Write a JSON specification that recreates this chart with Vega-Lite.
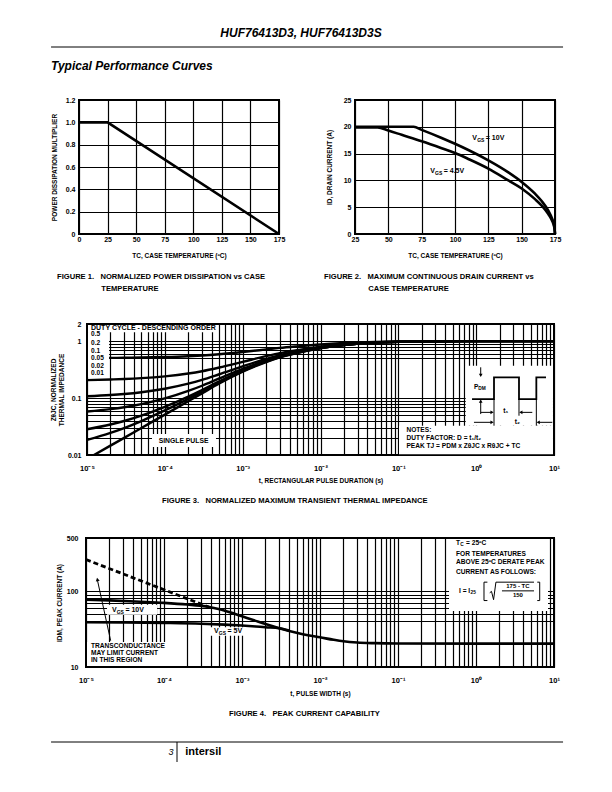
{
  "$schema": "https://vega.github.io/schema/vega-lite/v6.json",
  "padding": {"left": 49, "top": 26, "right": 10, "bottom": 10},
  "spacing": 0,
  "config": {
    "view": {"stroke": null},
    "axis": {"domain": false, "ticks": false, "grid": true, "gridColor": "#000000", "gridWidth": 1.2, "gridOpacity": 1, "labelFont": "Liberation Sans", "labelFontWeight": "bold", "labelFontSize": 7, "labelColor": "#000000", "titleFont": "Liberation Sans", "titleFontWeight": "bold", "titleFontSize": 6.5, "titleColor": "#000000", "labelFlush": false, "labelOverlap": false, "zindex": 0},
    "title": {"color": "#000000", "font": "Liberation Sans", "fontWeight": "bold", "fontSize": 7.6},
    "text": {"font": "Liberation Sans", "fontWeight": "bold", "color": "#000000"},
    "line": {"color": "#000000"},
    "rule": {"color": "#000000"},
    "point": {"color": "#000000"}
  },
  "datasets": {
    "f1": [{"tc": 0, "p": 1}, {"tc": 25, "p": 1}, {"tc": 175, "p": 0}],
    "f2": [
      {"s": "10", "tc": 25, "id": 20}, {"s": "10", "tc": 50, "id": 20}, {"s": "10", "tc": 69, "id": 20}, {"s": "10", "tc": 75, "id": 19.43}, {"s": "10", "tc": 90, "id": 17.92}, {"s": "10", "tc": 100, "id": 16.83}, {"s": "10", "tc": 110, "id": 15.67}, {"s": "10", "tc": 125, "id": 13.74}, {"s": "10", "tc": 140, "id": 11.5}, {"s": "10", "tc": 150, "id": 9.72}, {"s": "10", "tc": 160, "id": 7.53}, {"s": "10", "tc": 165, "id": 6.15}, {"s": "10", "tc": 170, "id": 4.35}, {"s": "10", "tc": 173, "id": 2.75}, {"s": "10", "tc": 174.5, "id": 1.37}, {"s": "10", "tc": 175, "id": 0},
      {"s": "4.5", "tc": 25, "id": 19.9}, {"s": "4.5", "tc": 42, "id": 19.9}, {"s": "4.5", "tc": 50, "id": 19.3}, {"s": "4.5", "tc": 60, "id": 18.5}, {"s": "4.5", "tc": 75, "id": 17.3}, {"s": "4.5", "tc": 90, "id": 16.0}, {"s": "4.5", "tc": 100, "id": 15.1}, {"s": "4.5", "tc": 110, "id": 14.0}, {"s": "4.5", "tc": 125, "id": 12.2}, {"s": "4.5", "tc": 140, "id": 10.0}, {"s": "4.5", "tc": 150, "id": 8.5}, {"s": "4.5", "tc": 160, "id": 6.5}, {"s": "4.5", "tc": 165, "id": 5.3}, {"s": "4.5", "tc": 170, "id": 3.7}, {"s": "4.5", "tc": 173, "id": 2.35}, {"s": "4.5", "tc": 174.5, "id": 1.2}, {"s": "4.5", "tc": 175, "id": 0}
    ],
    "f2lab": [{"tc": 113, "id": 17.9, "a": "V", "b": "GS", "c": "= 10V"}, {"tc": 81.4, "id": 11.8, "a": "V", "b": "GS", "c": "= 4.5V"}],
    "f3c": [
      {"d": "s", "t": 1e-5, "z": 0.0085}, {"d": "s", "t": 2e-5, "z": 0.0146}, {"d": "s", "t": 3e-5, "z": 0.02}, {"d": "s", "t": 5e-5, "z": 0.0298}, {"d": "s", "t": 1e-4, "z": 0.0512}, {"d": "s", "t": 2e-4, "z": 0.0879}, {"d": "s", "t": 3e-4, "z": 0.1206}, {"d": "s", "t": 5e-4, "z": 0.18}, {"d": "s", "t": 0.001, "z": 0.29}, {"d": "s", "t": 0.002, "z": 0.43}, {"d": "s", "t": 0.003, "z": 0.52}, {"d": "s", "t": 0.005, "z": 0.62}, {"d": "s", "t": 0.01, "z": 0.75}, {"d": "s", "t": 0.02, "z": 0.85}, {"d": "s", "t": 0.05, "z": 0.94}, {"d": "s", "t": 0.1, "z": 0.97}, {"d": "s", "t": 1, "z": 1}, {"d": "s", "t": 10, "z": 1},
      {"d": "0.01", "t": 1e-5, "z": 0.0184}, {"d": "0.01", "t": 2e-5, "z": 0.0245}, {"d": "0.01", "t": 3e-5, "z": 0.0298}, {"d": "0.01", "t": 5e-5, "z": 0.0395}, {"d": "0.01", "t": 1e-4, "z": 0.0607}, {"d": "0.01", "t": 2e-4, "z": 0.097}, {"d": "0.01", "t": 3e-4, "z": 0.1294}, {"d": "0.01", "t": 5e-4, "z": 0.188}, {"d": "0.01", "t": 0.001, "z": 0.297}, {"d": "0.01", "t": 0.002, "z": 0.436}, {"d": "0.01", "t": 0.003, "z": 0.525}, {"d": "0.01", "t": 0.005, "z": 0.624}, {"d": "0.01", "t": 0.01, "z": 0.7525}, {"d": "0.01", "t": 0.02, "z": 0.8515}, {"d": "0.01", "t": 0.05, "z": 0.9406}, {"d": "0.01", "t": 0.1, "z": 0.9703}, {"d": "0.01", "t": 1, "z": 1}, {"d": "0.01", "t": 10, "z": 1},
      {"d": "0.02", "t": 1e-5, "z": 0.0283}, {"d": "0.02", "t": 2e-5, "z": 0.0343}, {"d": "0.02", "t": 3e-5, "z": 0.0396}, {"d": "0.02", "t": 5e-5, "z": 0.0492}, {"d": "0.02", "t": 1e-4, "z": 0.0702}, {"d": "0.02", "t": 2e-4, "z": 0.1061}, {"d": "0.02", "t": 3e-4, "z": 0.1382}, {"d": "0.02", "t": 5e-4, "z": 0.196}, {"d": "0.02", "t": 0.001, "z": 0.304}, {"d": "0.02", "t": 0.002, "z": 0.441}, {"d": "0.02", "t": 0.003, "z": 0.53}, {"d": "0.02", "t": 0.005, "z": 0.628}, {"d": "0.02", "t": 0.01, "z": 0.755}, {"d": "0.02", "t": 0.02, "z": 0.853}, {"d": "0.02", "t": 0.05, "z": 0.941}, {"d": "0.02", "t": 0.1, "z": 0.971}, {"d": "0.02", "t": 1, "z": 1}, {"d": "0.02", "t": 10, "z": 1},
      {"d": "0.05", "t": 1e-5, "z": 0.0581}, {"d": "0.05", "t": 2e-5, "z": 0.0639}, {"d": "0.05", "t": 3e-5, "z": 0.069}, {"d": "0.05", "t": 5e-5, "z": 0.0783}, {"d": "0.05", "t": 1e-4, "z": 0.0986}, {"d": "0.05", "t": 2e-4, "z": 0.1335}, {"d": "0.05", "t": 3e-4, "z": 0.1646}, {"d": "0.05", "t": 5e-4, "z": 0.221}, {"d": "0.05", "t": 0.001, "z": 0.3255}, {"d": "0.05", "t": 0.002, "z": 0.4585}, {"d": "0.05", "t": 0.003, "z": 0.544}, {"d": "0.05", "t": 0.005, "z": 0.639}, {"d": "0.05", "t": 0.01, "z": 0.7625}, {"d": "0.05", "t": 0.02, "z": 0.8575}, {"d": "0.05", "t": 0.05, "z": 0.943}, {"d": "0.05", "t": 0.1, "z": 0.9715}, {"d": "0.05", "t": 1, "z": 1}, {"d": "0.05", "t": 10, "z": 1},
      {"d": "0.1", "t": 1e-5, "z": 0.1077}, {"d": "0.1", "t": 2e-5, "z": 0.1131}, {"d": "0.1", "t": 3e-5, "z": 0.118}, {"d": "0.1", "t": 5e-5, "z": 0.1268}, {"d": "0.1", "t": 1e-4, "z": 0.1461}, {"d": "0.1", "t": 2e-4, "z": 0.1791}, {"d": "0.1", "t": 3e-4, "z": 0.2085}, {"d": "0.1", "t": 5e-4, "z": 0.262}, {"d": "0.1", "t": 0.001, "z": 0.361}, {"d": "0.1", "t": 0.002, "z": 0.487}, {"d": "0.1", "t": 0.003, "z": 0.568}, {"d": "0.1", "t": 0.005, "z": 0.658}, {"d": "0.1", "t": 0.01, "z": 0.775}, {"d": "0.1", "t": 0.02, "z": 0.865}, {"d": "0.1", "t": 0.05, "z": 0.946}, {"d": "0.1", "t": 0.1, "z": 0.973}, {"d": "0.1", "t": 1, "z": 1}, {"d": "0.1", "t": 10, "z": 1},
      {"d": "0.2", "t": 1e-5, "z": 0.2068}, {"d": "0.2", "t": 2e-5, "z": 0.2117}, {"d": "0.2", "t": 3e-5, "z": 0.216}, {"d": "0.2", "t": 5e-5, "z": 0.2238}, {"d": "0.2", "t": 1e-4, "z": 0.241}, {"d": "0.2", "t": 2e-4, "z": 0.2703}, {"d": "0.2", "t": 3e-4, "z": 0.2965}, {"d": "0.2", "t": 5e-4, "z": 0.344}, {"d": "0.2", "t": 0.001, "z": 0.432}, {"d": "0.2", "t": 0.002, "z": 0.544}, {"d": "0.2", "t": 0.003, "z": 0.616}, {"d": "0.2", "t": 0.005, "z": 0.696}, {"d": "0.2", "t": 0.01, "z": 0.8}, {"d": "0.2", "t": 0.02, "z": 0.88}, {"d": "0.2", "t": 0.05, "z": 0.952}, {"d": "0.2", "t": 0.1, "z": 0.976}, {"d": "0.2", "t": 1, "z": 1}, {"d": "0.2", "t": 10, "z": 1},
      {"d": "0.5", "t": 1e-5, "z": 0.5043}, {"d": "0.5", "t": 2e-5, "z": 0.5073}, {"d": "0.5", "t": 3e-5, "z": 0.51}, {"d": "0.5", "t": 5e-5, "z": 0.5149}, {"d": "0.5", "t": 1e-4, "z": 0.5256}, {"d": "0.5", "t": 2e-4, "z": 0.544}, {"d": "0.5", "t": 3e-4, "z": 0.5603}, {"d": "0.5", "t": 5e-4, "z": 0.59}, {"d": "0.5", "t": 0.001, "z": 0.645}, {"d": "0.5", "t": 0.002, "z": 0.715}, {"d": "0.5", "t": 0.003, "z": 0.76}, {"d": "0.5", "t": 0.005, "z": 0.81}, {"d": "0.5", "t": 0.01, "z": 0.875}, {"d": "0.5", "t": 0.02, "z": 0.925}, {"d": "0.5", "t": 0.05, "z": 0.97}, {"d": "0.5", "t": 0.1, "z": 0.985}, {"d": "0.5", "t": 1, "z": 1}, {"d": "0.5", "t": 10, "z": 1}
    ],
    "f3box": [
      {"t": 1.03e-5, "t2": 4.68e-4, "z": 1.43, "z2": 1.93},
      {"t": 1.03e-5, "t2": 1.92e-5, "z": 0.2316, "z2": 1.43},
      {"t": 6.84e-5, "t2": 4.54e-4, "z": 0.0138, "z2": 0.0234},
      {"t": 0.102, "t2": 9.7, "z": 0.0103, "z2": 0.0327},
      {"t": 0.734, "t2": 9.7, "z": 0.0327, "z2": 0.37}
    ],
    "f3head": [{"t": 1.126e-5, "z": 1.7, "label": "DUTY CYCLE - DESCENDING ORDER"}],
    "f3txt": [
      {"t": 1.126e-5, "z": 1.334, "label": "0.5"},
      {"t": 1.126e-5, "z": 0.917, "label": "0.2"},
      {"t": 1.126e-5, "z": 0.68, "label": "0.1"},
      {"t": 1.126e-5, "z": 0.4995, "label": "0.05"},
      {"t": 1.126e-5, "z": 0.37, "label": "0.02"},
      {"t": 1.126e-5, "z": 0.2757, "label": "0.01"},
      {"t": 0.127, "z": 0.0275, "label": "NOTES:"},
      {"t": 0.127, "z": 0.0199, "label": "DUTY FACTOR: D = t₁/t₂"},
      {"t": 0.127, "z": 0.01456, "label": "PEAK TJ = PDM x ZθJC x RθJC + TC"}
    ],
    "f3txtc": [
      {"t": 1.74e-4, "z": 0.01782, "label": "SINGLE PULSE"},
      {"t": 2.4, "z": 0.0598, "label": "t₁"},
      {"t": 3.38, "z": 0.0375, "label": "t₂"}
    ],
    "f3seg": [
      {"seg": "wave", "k": 0, "t": 0.885, "z": 0.096}, {"seg": "wave", "k": 1, "t": 1.695, "z": 0.096}, {"seg": "wave", "k": 2, "t": 1.695, "z": 0.2316}, {"seg": "wave", "k": 3, "t": 3.55, "z": 0.2316}, {"seg": "wave", "k": 4, "t": 3.55, "z": 0.096}, {"seg": "wave", "k": 5, "t": 5.93, "z": 0.096}, {"seg": "wave", "k": 6, "t": 5.93, "z": 0.2316}, {"seg": "wave", "k": 7, "t": 7.89, "z": 0.2316},
      {"seg": "v1", "k": 0, "t": 1.695, "z": 0.096}, {"seg": "v1", "k": 1, "t": 1.695, "z": 0.0327},
      {"seg": "v2", "k": 0, "t": 3.55, "z": 0.096}, {"seg": "v2", "k": 1, "t": 3.55, "z": 0.049},
      {"seg": "v3", "k": 0, "t": 5.93, "z": 0.096}, {"seg": "v3", "k": 1, "t": 5.93, "z": 0.0327},
      {"seg": "pd", "k": 0, "t": 1.144, "z": 0.347}, {"seg": "pd", "k": 1, "t": 1.144, "z": 0.25},
      {"seg": "pu", "k": 0, "t": 1.144, "z": 0.0524}, {"seg": "pu", "k": 1, "t": 1.144, "z": 0.09},
      {"seg": "a1", "k": 0, "t": 1.144, "z": 0.0561}, {"seg": "a1", "k": 1, "t": 1.6, "z": 0.0561},
      {"seg": "a2", "k": 0, "t": 5.26, "z": 0.0561}, {"seg": "a2", "k": 1, "t": 3.75, "z": 0.0561},
      {"seg": "a3", "k": 0, "t": 0.937, "z": 0.0375}, {"seg": "a3", "k": 1, "t": 1.6, "z": 0.0375},
      {"seg": "a4", "k": 0, "t": 9.51, "z": 0.0375}, {"seg": "a4", "k": 1, "t": 6.27, "z": 0.0375}
    ],
    "f3arr": [
      {"dir": "down", "t": 1.144, "z": 0.25}, {"dir": "up", "t": 1.144, "z": 0.088},
      {"dir": "right", "t": 1.6, "z": 0.0561}, {"dir": "left", "t": 3.75, "z": 0.0561},
      {"dir": "right", "t": 1.6, "z": 0.0375}, {"dir": "left", "t": 6.27, "z": 0.0375}
    ],
    "f3pdm": [{"t": 0.937, "z": 0.1545, "a": "P", "b": "DM"}],
    "f4c": [
      {"s": "10", "t": 1e-5, "i": 77}, {"s": "10", "t": 2e-5, "i": 75.5}, {"s": "10", "t": 5e-5, "i": 72.5}, {"s": "10", "t": 1e-4, "i": 70}, {"s": "10", "t": 2e-4, "i": 66.5}, {"s": "10", "t": 3.5e-4, "i": 62.5}, {"s": "10", "t": 5e-4, "i": 58}, {"s": "10", "t": 7e-4, "i": 52.5}, {"s": "10", "t": 0.001, "i": 46.5}, {"s": "10", "t": 0.0015, "i": 40.5}, {"s": "10", "t": 0.002, "i": 36.8}, {"s": "10", "t": 0.003, "i": 32.5}, {"s": "10", "t": 0.005, "i": 28.3}, {"s": "10", "t": 0.007, "i": 26.2}, {"s": "10", "t": 0.01, "i": 24.6}, {"s": "10", "t": 0.015, "i": 22.8}, {"s": "10", "t": 0.02, "i": 21.8}, {"s": "10", "t": 0.03, "i": 21}, {"s": "10", "t": 0.05, "i": 20.6}, {"s": "10", "t": 0.1, "i": 20.4}, {"s": "10", "t": 1, "i": 20.3}, {"s": "10", "t": 10, "i": 20.3},
      {"s": "5", "t": 1e-5, "i": 38.8}, {"s": "5", "t": 3e-5, "i": 38.5}, {"s": "5", "t": 1e-4, "i": 38}, {"s": "5", "t": 3e-4, "i": 37.2}, {"s": "5", "t": 6e-4, "i": 36.2}, {"s": "5", "t": 0.001, "i": 35.2}, {"s": "5", "t": 0.0015, "i": 34.2}, {"s": "5", "t": 0.002, "i": 33.4}, {"s": "5", "t": 0.003, "i": 32.4}, {"s": "5", "t": 0.004, "i": 30.3}
    ],
    "f4dash": [{"t": 1e-5, "i": 260}, {"t": 3.78e-4, "i": 61.4}],
    "f4box": [
      {"t": 1.86e-5, "t2": 8.15e-5, "i": 48.6, "i2": 65.8},
      {"t": 3.78e-4, "t2": 1.34e-3, "i": 25.7, "i2": 33.5},
      {"t": 1.03e-5, "t2": 1.09e-4, "i": 10.3, "i2": 21.4},
      {"t": 0.451, "t2": 8.38, "i": 54.8, "i2": 485}
    ],
    "f4txt": [
      {"t": 1.16e-5, "i": 18.8, "label": "TRANSCONDUCTANCE"},
      {"t": 1.16e-5, "i": 15.3, "label": "MAY LIMIT CURRENT"},
      {"t": 1.16e-5, "i": 12.5, "label": "IN THIS REGION"},
      {"t": 0.555, "i": 306, "label": "FOR TEMPERATURES"},
      {"t": 0.555, "i": 240, "label": "ABOVE 25ºC DERATE PEAK"},
      {"t": 0.555, "i": 177, "label": "CURRENT AS FOLLOWS:"}
    ],
    "f4vgs": [{"t": 2.15e-5, "i": 56.5, "a": "V", "b": "GS", "c": "= 10V"}, {"t": 4.38e-4, "i": 30.2, "a": "V", "b": "GS", "c": "= 5V"}],
    "f4tc": [{"t": 0.555, "i": 431, "a": "T", "b": "C", "c": "= 25ºC"}],
    "f4i25": [{"t": 0.605, "i": 101, "a": "I = I", "b": "25"}],
    "f4ctr": [{"t": 3.45, "i": 116, "label": "175 - TC"}, {"t": 3.45, "i": 88, "label": "150"}],
    "f4seg": [
      {"seg": "lb", "k": 0, "t": 1.4, "i": 131}, {"seg": "lb", "k": 1, "t": 1.266, "i": 131}, {"seg": "lb", "k": 2, "t": 1.266, "i": 75}, {"seg": "lb", "k": 3, "t": 1.4, "i": 75},
      {"seg": "sq", "k": 0, "t": 1.5, "i": 95}, {"seg": "sq", "k": 1, "t": 1.58, "i": 99}, {"seg": "sq", "k": 2, "t": 1.68, "i": 77}, {"seg": "sq", "k": 3, "t": 1.8, "i": 131}, {"seg": "sq", "k": 4, "t": 5.54, "i": 131},
      {"seg": "fb", "k": 0, "t": 2.153, "i": 100.6}, {"seg": "fb", "k": 1, "t": 5.54, "i": 100.6},
      {"seg": "rb", "k": 0, "t": 6.1, "i": 131}, {"seg": "rb", "k": 1, "t": 6.56, "i": 131}, {"seg": "rb", "k": 2, "t": 6.56, "i": 75}, {"seg": "rb", "k": 3, "t": 6.1, "i": 75},
      {"seg": "ar", "k": 0, "t": 2.07e-5, "i": 22.2}, {"seg": "ar", "k": 1, "t": 1.4e-5, "i": 140}
    ],
    "f4arrow": [{"t": 1.4e-5, "i": 142}]
  },
  "vconcat": [
    {
      "width": 512, "height": 48,
      "data": {"values": [{}]},
      "title": {"text": "HUF76413D3, HUF76413D3S", "anchor": "middle", "frame": "group", "offset": 7, "dx": -4, "fontSize": 12, "fontStyle": "italic", "font": "Liberation Sans", "fontWeight": "bold"},
      "layer": [
        {"mark": {"type": "rule", "strokeWidth": 1}, "encoding": {"x": {"datum": 0.004, "type": "quantitative", "scale": {"domain": [0, 1]}, "axis": null}, "x2": {"datum": 1.004}, "y": {"datum": 1, "type": "quantitative", "scale": {"domain": [0, 1]}, "axis": null}}},
        {"mark": {"type": "text", "text": "Typical Performance Curves", "align": "left", "baseline": "middle", "fontSize": 12, "fontStyle": "italic", "fontWeight": "bold"}, "encoding": {"x": {"datum": 0.004, "type": "quantitative"}, "y": {"datum": 0.604, "type": "quantitative"}}}
      ]
    },
    {
      "spacing": 29,
      "bounds": "flush",
      "hconcat": [
        {"width": 1, "height": 219, "data": {"values": []}, "mark": "point"},
        {
          "width": 200, "height": 134,
          "view": {"stroke": "#000000", "strokeWidth": 2},
          "title": {"text": ["FIGURE 1.\u00a0\u00a0\u00a0NORMALIZED POWER DISSIPATION vs CASE", "\u200b\u00a0\u00a0\u00a0\u00a0\u00a0\u00a0\u00a0\u00a0\u00a0\u00a0\u00a0\u00a0\u00a0\u00a0\u00a0\u00a0\u00a0\u00a0\u00a0\u00a0\u00a0TEMPERATURE"], "orient": "bottom", "anchor": "start", "frame": "group", "dx": -22, "offset": 14, "lineHeight": 12},
          "data": {"name": "f1"},
          "mark": {"type": "line", "strokeWidth": 2.6},
          "encoding": {
            "x": {"field": "tc", "type": "quantitative", "scale": {"domain": [0, 175], "nice": false}, "axis": {"values": [0, 25, 50, 75, 100, 125, 150, 175], "title": "TC, CASE TEMPERATURE (ºC)", "labelPadding": 1, "titlePadding": 10.5}},
            "y": {"field": "p", "type": "quantitative", "scale": {"domain": [0, 1.2], "nice": false}, "axis": {"values": [0, 0.2, 0.4, 0.6, 0.8, 1, 1.2], "labelExpr": "datum.value == 0 ? '0' : format(datum.value, '.1f')", "title": "POWER DISSIPATION MULTIPLIER", "labelPadding": 4, "titlePadding": 8}}
          }
        },
        {"width": 18, "height": 1, "data": {"values": []}, "mark": "point"},
        {
          "width": 200, "height": 134,
          "view": {"stroke": "#000000", "strokeWidth": 2},
          "title": {"text": ["FIGURE 2.\u00a0\u00a0\u00a0MAXIMUM CONTINUOUS DRAIN CURRENT vs", "\u200b\u00a0\u00a0\u00a0\u00a0\u00a0\u00a0\u00a0\u00a0\u00a0\u00a0\u00a0\u00a0\u00a0\u00a0\u00a0\u00a0\u00a0\u00a0\u00a0\u00a0\u00a0CASE TEMPERATURE"], "orient": "bottom", "anchor": "start", "frame": "group", "dx": -31, "offset": 14, "lineHeight": 12},
          "encoding": {
            "x": {"field": "tc", "type": "quantitative", "scale": {"domain": [25, 175], "nice": false, "zero": false}, "axis": {"values": [25, 50, 75, 100, 125, 150, 175], "title": "TC, CASE TEMPERATURE (ºC)", "labelPadding": 1, "titlePadding": 10.5}},
            "y": {"field": "id", "type": "quantitative", "scale": {"domain": [0, 25], "nice": false}, "axis": {"values": [0, 5, 10, 15, 20, 25], "title": "ID, DRAIN CURRENT (A)", "labelPadding": 4, "titlePadding": 11}}
          },
          "layer": [
            {"data": {"name": "f2"}, "mark": {"type": "line", "strokeWidth": 2.6, "interpolate": "monotone"}, "encoding": {"detail": {"field": "s"}}},
            {"data": {"name": "f2lab"}, "mark": {"type": "text", "align": "left", "baseline": "middle", "fontSize": 7}, "encoding": {"text": {"field": "a"}}},
            {"data": {"name": "f2lab"}, "mark": {"type": "text", "align": "left", "baseline": "middle", "fontSize": 5, "dx": 4.8, "dy": 2}, "encoding": {"text": {"field": "b"}}},
            {"data": {"name": "f2lab"}, "mark": {"type": "text", "align": "left", "baseline": "middle", "fontSize": 7, "dx": 13.5}, "encoding": {"text": {"field": "c"}}}
          ]
        }
      ]
    },
    {
      "spacing": 37,
      "bounds": "flush",
      "hconcat": [
        {"width": 1, "height": 209, "data": {"values": []}, "mark": "point"},
        {
          "width": 467, "height": 131,
          "view": {"stroke": "#000000", "strokeWidth": 2},
          "title": {"text": "FIGURE 3.\u00a0\u00a0\u00a0NORMALIZED MAXIMUM TRANSIENT THERMAL IMPEDANCE", "orient": "bottom", "anchor": "start", "frame": "group", "dx": 75, "offset": 13},
          "encoding": {
            "x": {"field": "t", "type": "quantitative", "scale": {"type": "log", "domain": [1e-5, 10], "nice": false}, "axis": {"values": [1e-5, 2e-5, 3e-5, 4e-5, 5e-5, 6e-5, 7e-5, 8e-5, 9e-5, 1e-4, 2e-4, 3e-4, 4e-4, 5e-4, 6e-4, 7e-4, 8e-4, 9e-4, 0.001, 0.002, 0.003, 0.004, 0.005, 0.006, 0.007, 0.008, 0.009, 0.01, 0.02, 0.03, 0.04, 0.05, 0.06, 0.07, 0.08, 0.09, 0.1, 0.2, 0.3, 0.4, 0.5, 0.6, 0.7, 0.8, 0.9, 1, 2, 3, 4, 5, 6, 7, 8, 9, 10], "labelExpr": "datum.value == 1e-5 ? '10⁻⁵' : datum.value == 1e-4 ? '10⁻⁴' : datum.value == 0.001 ? '10⁻³' : datum.value == 0.01 ? '10⁻²' : datum.value == 0.1 ? '10⁻¹' : datum.value == 1 ? '10⁰' : datum.value == 10 ? '10¹' : ''", "labelFontSize": 7.5, "title": "t, RECTANGULAR PULSE DURATION (s)", "labelPadding": 9, "titlePadding": 6}},
            "y": {"field": "z", "type": "quantitative", "scale": {"type": "log", "domain": [0.01, 2], "nice": false}, "axis": {"values": [0.01, 0.02, 0.03, 0.04, 0.05, 0.06, 0.07, 0.08, 0.09, 0.1, 0.5, 0.6, 0.7, 0.8, 0.9, 1, 2], "labelExpr": "datum.value == 0.01 ? '0.01' : datum.value == 0.1 ? '0.1' : datum.value == 1 ? '1' : datum.value == 2 ? '2' : ''", "title": ["ZθJC, NORMALIZED", "THERMAL IMPEDANCE"], "titleLineHeight": 8, "labelPadding": 6, "titlePadding": 3}}
          },
          "layer": [
            {"data": {"name": "f3c"}, "mark": {"type": "line", "strokeWidth": 2.4, "interpolate": "monotone", "clip": true}, "encoding": {"detail": {"field": "d"}}},
            {"data": {"name": "f3box"}, "mark": {"type": "rect", "fill": "#ffffff"}, "encoding": {"x2": {"field": "t2"}, "y2": {"field": "z2"}}},
            {"data": {"name": "f3seg"}, "transform": [{"filter": "datum.seg == 'wave'"}], "mark": {"type": "line", "strokeWidth": 1.8}, "encoding": {"detail": {"field": "seg"}, "order": {"field": "k", "type": "quantitative"}}},
            {"data": {"name": "f3seg"}, "transform": [{"filter": "datum.seg != 'wave'"}], "mark": {"type": "line", "strokeWidth": 1}, "encoding": {"detail": {"field": "seg"}, "order": {"field": "k", "type": "quantitative"}}},
            {"data": {"name": "f3arr"}, "mark": {"type": "point", "filled": true, "size": 14, "opacity": 1}, "encoding": {"shape": {"field": "dir", "type": "nominal", "scale": {"domain": ["down", "up", "right", "left"], "range": ["triangle-down", "triangle-up", "triangle-right", "triangle-left"]}, "legend": null}}},
            {"data": {"name": "f3head"}, "mark": {"type": "text", "align": "left", "baseline": "middle", "fontSize": 7}, "encoding": {"text": {"field": "label"}}},
            {"data": {"name": "f3txt"}, "mark": {"type": "text", "align": "left", "baseline": "middle", "fontSize": 6.6}, "encoding": {"text": {"field": "label"}}},
            {"data": {"name": "f3txtc"}, "mark": {"type": "text", "align": "center", "baseline": "middle", "fontSize": 6.8}, "encoding": {"text": {"field": "label"}}},
            {"data": {"name": "f3pdm"}, "mark": {"type": "text", "align": "left", "baseline": "middle", "fontSize": 6.5}, "encoding": {"text": {"field": "a"}}},
            {"data": {"name": "f3pdm"}, "mark": {"type": "text", "align": "left", "baseline": "middle", "fontSize": 4.8, "dx": 4.4, "dy": 2}, "encoding": {"text": {"field": "b"}}}
          ]
        }
      ]
    },
    {
      "spacing": 36,
      "bounds": "flush",
      "hconcat": [
        {"width": 1, "height": 203, "data": {"values": []}, "mark": "point"},
        {
          "width": 468, "height": 129,
          "view": {"stroke": "#000000", "strokeWidth": 2},
          "title": {"text": "FIGURE 4.\u00a0\u00a0\u00a0PEAK CURRENT CAPABILITY", "orient": "bottom", "anchor": "start", "frame": "group", "dx": 143, "offset": 13},
          "encoding": {
            "x": {"field": "t", "type": "quantitative", "scale": {"type": "log", "domain": [1e-5, 10], "nice": false}, "axis": {"values": [1e-5, 2e-5, 3e-5, 4e-5, 5e-5, 6e-5, 7e-5, 8e-5, 9e-5, 1e-4, 2e-4, 3e-4, 4e-4, 5e-4, 6e-4, 7e-4, 8e-4, 9e-4, 0.001, 0.002, 0.003, 0.004, 0.005, 0.006, 0.007, 0.008, 0.009, 0.01, 0.02, 0.03, 0.04, 0.05, 0.06, 0.07, 0.08, 0.09, 0.1, 0.2, 0.3, 0.4, 0.5, 0.6, 0.7, 0.8, 0.9, 1, 2, 3, 4, 5, 6, 7, 8, 9, 10], "labelExpr": "datum.value == 1e-5 ? '10⁻⁵' : datum.value == 1e-4 ? '10⁻⁴' : datum.value == 0.001 ? '10⁻³' : datum.value == 0.01 ? '10⁻²' : datum.value == 0.1 ? '10⁻¹' : datum.value == 1 ? '10⁰' : datum.value == 10 ? '10¹' : ''", "labelFontSize": 7.5, "title": "t, PULSE WIDTH (s)", "labelPadding": 9, "titlePadding": 7}},
            "y": {"field": "i", "type": "quantitative", "scale": {"type": "log", "domain": [10, 500], "nice": false}, "axis": {"values": [10, 40, 50, 60, 70, 80, 90, 100, 500], "labelExpr": "datum.value == 10 ? '10' : datum.value == 100 ? '100' : datum.value == 500 ? '500' : ''", "title": "IDM, PEAK CURRENT (A)", "labelPadding": 8, "titlePadding": 4}}
          },
          "layer": [
            {"data": {"name": "f4box"}, "mark": {"type": "rect", "fill": "#ffffff"}, "encoding": {"x2": {"field": "t2"}, "y2": {"field": "i2"}}},
            {"data": {"name": "f4c"}, "mark": {"type": "line", "strokeWidth": 2.6, "interpolate": "monotone"}, "encoding": {"detail": {"field": "s"}}},
            {"data": {"name": "f4dash"}, "mark": {"type": "line", "strokeWidth": 2.8, "strokeDash": [5, 3]}, "encoding": {}},
            {"data": {"name": "f4seg"}, "mark": {"type": "line", "strokeWidth": 1}, "encoding": {"detail": {"field": "seg"}, "order": {"field": "k", "type": "quantitative"}}},
            {"data": {"name": "f4arrow"}, "mark": {"type": "point", "shape": "triangle-up", "angle": 348, "filled": true, "size": 16, "opacity": 1}},
            {"data": {"name": "f4txt"}, "mark": {"type": "text", "align": "left", "baseline": "middle", "fontSize": 6.6}, "encoding": {"text": {"field": "label"}}},
            {"data": {"name": "f4ctr"}, "mark": {"type": "text", "align": "center", "baseline": "middle", "fontSize": 6}, "encoding": {"text": {"field": "label"}}},
            {"data": {"name": "f4vgs"}, "mark": {"type": "text", "align": "left", "baseline": "middle", "fontSize": 7}, "encoding": {"text": {"field": "a"}}},
            {"data": {"name": "f4vgs"}, "mark": {"type": "text", "align": "left", "baseline": "middle", "fontSize": 5, "dx": 4.8, "dy": 2}, "encoding": {"text": {"field": "b"}}},
            {"data": {"name": "f4vgs"}, "mark": {"type": "text", "align": "left", "baseline": "middle", "fontSize": 7, "dx": 13.5}, "encoding": {"text": {"field": "c"}}},
            {"data": {"name": "f4tc"}, "mark": {"type": "text", "align": "left", "baseline": "middle", "fontSize": 6.6}, "encoding": {"text": {"field": "a"}}},
            {"data": {"name": "f4tc"}, "mark": {"type": "text", "align": "left", "baseline": "middle", "fontSize": 4.8, "dx": 4.1, "dy": 2}, "encoding": {"text": {"field": "b"}}},
            {"data": {"name": "f4tc"}, "mark": {"type": "text", "align": "left", "baseline": "middle", "fontSize": 6.6, "dx": 10}, "encoding": {"text": {"field": "c"}}},
            {"data": {"name": "f4i25"}, "mark": {"type": "text", "align": "left", "baseline": "middle", "fontSize": 6.6}, "encoding": {"text": {"field": "a"}}},
            {"data": {"name": "f4i25"}, "mark": {"type": "text", "align": "left", "baseline": "middle", "fontSize": 4.8, "dx": 11.5, "dy": 2}, "encoding": {"text": {"field": "b"}}}
          ]
        }
      ]
    },
    {
      "width": 512, "height": 20,
      "data": {"values": [{}]},
      "layer": [
        {"mark": {"type": "rule", "strokeWidth": 1}, "encoding": {"x": {"datum": 0.004, "type": "quantitative", "scale": {"domain": [0, 1]}, "axis": null}, "x2": {"datum": 1.004}, "y": {"datum": 1, "type": "quantitative", "scale": {"domain": [0, 1]}, "axis": null}}},
        {"mark": {"type": "rule", "strokeWidth": 1}, "encoding": {"x": {"datum": 0.25, "type": "quantitative"}, "y": {"datum": 1, "type": "quantitative"}, "y2": {"datum": 0}}},
        {"mark": {"type": "text", "text": "3", "align": "right", "baseline": "middle", "fontSize": 9, "fontStyle": "italic", "fontWeight": "normal"}, "encoding": {"x": {"datum": 0.243, "type": "quantitative"}, "y": {"datum": 0.5, "type": "quantitative"}}},
        {"mark": {"type": "text", "text": "intersil", "align": "left", "baseline": "middle", "fontSize": 11, "fontWeight": "bold"}, "encoding": {"x": {"datum": 0.266, "type": "quantitative"}, "y": {"datum": 0.5, "type": "quantitative"}}}
      ]
    }
  ]
}
